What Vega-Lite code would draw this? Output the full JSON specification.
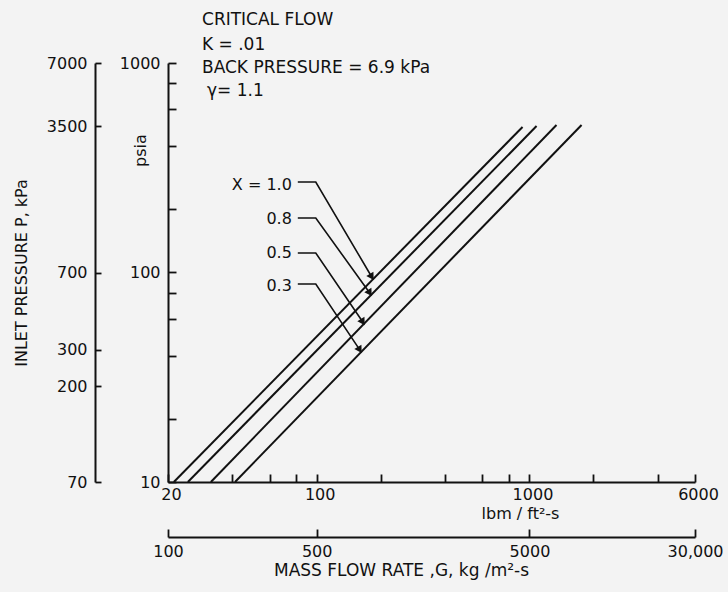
{
  "$schema": "https://vega.github.io/schema/vega-lite/v6.json",
  "width": 527,
  "height": 419,
  "autosize": {"type": "none"},
  "padding": {"left": 168, "top": 63, "right": 33, "bottom": 110},
  "background": "#f3f3f3",
  "config": {
    "view": {"stroke": null},
    "font": "DejaVu Sans",
    "axis": {
      "grid": false,
      "domainColor": "#111111",
      "domainWidth": 2,
      "tickColor": "#111111",
      "tickWidth": 1.8,
      "labelColor": "#111111",
      "labelFontSize": 16,
      "labelFont": "DejaVu Sans",
      "titleFont": "DejaVu Sans",
      "titleColor": "#111111",
      "titleFontWeight": "normal",
      "titleFontSize": 16,
      "labelOverlap": false,
      "labelFlush": false
    }
  },
  "layer": [
    {
      "data": {
        "values": [
          {"X": "1.0", "G": 21.3, "P": 10},
          {"X": "1.0", "G": 928, "P": 495},
          {"X": "0.8", "G": 24.8, "P": 10},
          {"X": "0.8", "G": 1080, "P": 500},
          {"X": "0.5", "G": 31.8, "P": 10},
          {"X": "0.5", "G": 1340, "P": 506},
          {"X": "0.3", "G": 41.3, "P": 10},
          {"X": "0.3", "G": 1758, "P": 506}
        ]
      },
      "mark": {"type": "line", "color": "#111111", "strokeWidth": 2},
      "encoding": {
        "x": {
          "field": "G",
          "type": "quantitative",
          "scale": {"type": "log", "domain": [20, 6000]},
          "axis": {
            "orient": "bottom",
            "values": [20, 40, 60, 80, 100, 200, 400, 600, 800, 1000, 2000, 4000, 6000],
            "labelExpr": "indexof([20, 100, 1000, 6000], datum.value) >= 0 ? format(datum.value, 'd') : ''",
            "tickSize": -8,
            "labelPadding": 12,
            "labelBaseline": "top",
            "labelOffset": 3,
            "title": "lbm / ft²-s",
            "titleX": 352,
            "titleY": 31,
            "titleAlign": "center",
            "titleBaseline": "middle"
          }
        },
        "y": {
          "field": "P",
          "type": "quantitative",
          "scale": {"type": "log", "domain": [10, 1000]},
          "axis": {
            "orient": "left",
            "values": [10, 20, 40, 60, 80, 100, 200, 400, 600, 800, 1000],
            "labelExpr": "indexof([10, 100, 1000], datum.value) >= 0 ? format(datum.value, 'd') : ''",
            "tickSize": -8,
            "labelPadding": 16,
            "title": "psia",
            "titleAngle": -90,
            "titleX": -28,
            "titleY": 87,
            "titleAlign": "center",
            "titleBaseline": "middle"
          }
        },
        "detail": {"field": "X", "type": "nominal"}
      }
    },
    {
      "data": {
        "values": [
          {"X": "1.0", "seq": 1, "G": 81.5, "P": 270.4},
          {"X": "1.0", "seq": 2, "G": 99.0, "P": 270.4},
          {"X": "1.0", "seq": 3, "G": 181.5, "P": 95.2},
          {"X": "0.8", "seq": 1, "G": 81.5, "P": 182},
          {"X": "0.8", "seq": 2, "G": 99.0, "P": 182},
          {"X": "0.8", "seq": 3, "G": 177.6, "P": 79.8},
          {"X": "0.5", "seq": 1, "G": 81.5, "P": 123.9},
          {"X": "0.5", "seq": 2, "G": 99.0, "P": 123.9},
          {"X": "0.5", "seq": 3, "G": 164.7, "P": 58.0},
          {"X": "0.3", "seq": 1, "G": 81.5, "P": 88.1},
          {"X": "0.3", "seq": 2, "G": 99.0, "P": 88.1},
          {"X": "0.3", "seq": 3, "G": 159.4, "P": 42.7}
        ]
      },
      "mark": {"type": "line", "color": "#111111", "strokeWidth": 1.6},
      "encoding": {
        "x": {"field": "G", "type": "quantitative", "scale": {"type": "log", "domain": [20, 6000]}, "axis": null},
        "y": {"field": "P", "type": "quantitative", "scale": {"type": "log", "domain": [10, 1000]}, "axis": null},
        "detail": {"field": "X", "type": "nominal"},
        "order": {"field": "seq", "type": "quantitative"}
      }
    },
    {
      "data": {
        "values": [
          {"X": "1.0", "G": 181.5, "P": 95.2},
          {"X": "0.8", "G": 177.6, "P": 79.8},
          {"X": "0.5", "G": 164.7, "P": 58.0},
          {"X": "0.3", "G": 159.4, "P": 42.7}
        ]
      },
      "mark": {"type": "point", "shape": "triangle-down", "filled": true, "color": "#111111", "opacity": 1, "size": 70, "angle": -32},
      "encoding": {
        "x": {"field": "G", "type": "quantitative", "scale": {"type": "log", "domain": [20, 6000]}, "axis": null},
        "y": {"field": "P", "type": "quantitative", "scale": {"type": "log", "domain": [10, 1000]}, "axis": null}
      }
    },
    {
      "data": {
        "values": [
          {"text": "X = 1.0", "G": 76.4, "P": 261.7},
          {"text": "0.8", "G": 76.4, "P": 180},
          {"text": "0.5", "G": 76.4, "P": 123.9},
          {"text": "0.3", "G": 76.4, "P": 86.2}
        ]
      },
      "mark": {"type": "text", "align": "right", "baseline": "middle", "fontSize": 16, "color": "#111111", "font": "DejaVu Sans"},
      "encoding": {
        "x": {"field": "G", "type": "quantitative", "scale": {"type": "log", "domain": [20, 6000]}, "axis": null},
        "y": {"field": "P", "type": "quantitative", "scale": {"type": "log", "domain": [10, 1000]}, "axis": null},
        "text": {"field": "text"}
      }
    },
    {
      "data": {
        "values": [
          {"text": "CRITICAL FLOW", "G": 28.9, "P": 1604},
          {"text": "K = .01", "G": 28.9, "P": 1219},
          {"text": "BACK PRESSURE = 6.9 kPa", "G": 28.9, "P": 946.5},
          {"text": "γ= 1.1", "G": 30.5, "P": 735}
        ]
      },
      "mark": {"type": "text", "align": "left", "baseline": "middle", "fontSize": 17, "color": "#111111", "font": "DejaVu Sans"},
      "encoding": {
        "x": {"field": "G", "type": "quantitative", "scale": {"type": "log", "domain": [20, 6000]}, "axis": null},
        "y": {"field": "P", "type": "quantitative", "scale": {"type": "log", "domain": [10, 1000]}, "axis": null},
        "text": {"field": "text"}
      }
    },
    {
      "data": {
        "values": [
          {"G_si": 100, "P_si": 70},
          {"G_si": 30000, "P_si": 7000}
        ]
      },
      "mark": {"type": "point", "opacity": 0},
      "encoding": {
        "x": {
          "field": "G_si",
          "type": "quantitative",
          "scale": {"type": "log", "domain": [100, 30000]},
          "axis": {
            "orient": "bottom",
            "offset": 55,
            "values": [100, 500, 5000, 30000],
            "labelExpr": "datum.value == 30000 ? '30,000' : format(datum.value, 'd')",
            "tickSize": -8,
            "labelPadding": 14,
            "labelBaseline": "top",
            "title": "MASS FLOW RATE ,G, kg /m²-s",
            "titleFontSize": 17,
            "titleX": 233,
            "titleY": 33,
            "titleAlign": "center",
            "titleBaseline": "middle"
          }
        },
        "y": {
          "field": "P_si",
          "type": "quantitative",
          "scale": {"type": "log", "domain": [70, 7000]},
          "axis": {
            "orient": "left",
            "offset": 73,
            "values": [70, 200, 300, 700, 3500, 7000],
            "labelExpr": "format(datum.value, 'd')",
            "tickSize": -6,
            "labelPadding": 14,
            "title": "INLET PRESSURE P, kPa",
            "titleAngle": -90,
            "titleX": -74,
            "titleAlign": "center",
            "titleBaseline": "middle"
          }
        }
      }
    }
  ],
  "resolve": {"scale": {"x": "independent", "y": "independent"}}
}
